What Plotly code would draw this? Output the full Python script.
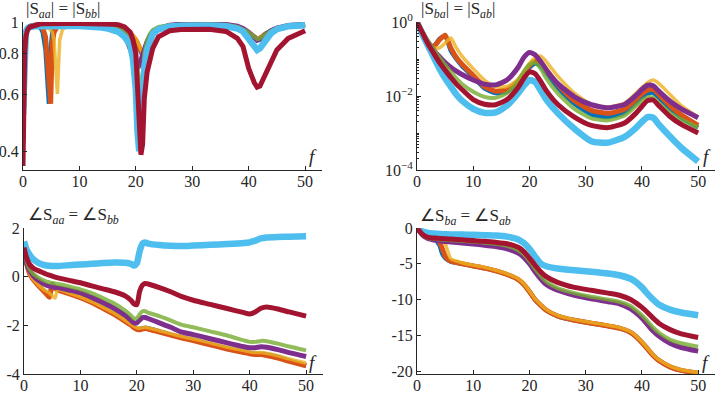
import math
import plotly.graph_objects as go

# frequency grids (one per panel)
f_mag_aa = [0, 0.15, 0.3, 0.5, 0.8, 1.2, 2, 3, 3.5, 4, 4.3, 4.6, 4.9, 5.2, 5.5, 5.8, 6.1, 6.5, 7, 8,
            10, 12, 14, 15, 16, 17, 18, 19, 19.5, 20, 20.3, 20.6, 20.9, 21.2, 21.5, 22, 22.5, 23, 24,
            26, 28, 30, 33, 36, 38, 39, 40, 41, 41.5, 42, 43, 44, 45, 47, 50]
f_mag_ba = [0, 1, 2, 3, 4, 5, 6, 7, 8, 10, 12, 14, 16, 18, 19, 20, 21, 22, 23, 25, 28, 31, 34, 37,
            39, 40, 41, 42, 43, 45, 47, 50]
f_ang_aa = [0, 0.5, 1, 1.5, 2, 3, 4, 4.5, 5, 5.5, 6, 8, 10, 12, 14, 16, 18, 19, 19.5, 20, 20.5, 21,
            21.5, 22, 24, 26, 28, 30, 33, 36, 39, 40, 41, 42, 43, 45, 47, 50]
f_ang_ba = [0, 1, 2, 3, 4, 4.5, 5, 5.5, 6, 8, 10, 12, 14, 16, 18, 19, 20, 21, 22, 23, 25, 28, 31, 34,
            36, 38, 39, 40, 41, 42, 43, 45, 47, 50]

# |S_aa| = |S_bb|
mag_aa_1 = [0.44, 0.7, 0.85, 0.93, 0.96, 0.97, 0.975, 0.97, 0.93, 0.82, 0.7, 0.56, 0.82, 0.93, 0.96, 0.97,
            0.975, 0.978, 0.98, 0.982, 0.985, 0.985, 0.982, 0.978, 0.97, 0.96, 0.945, 0.92, 0.9, 0.87,
            0.85, 0.82, 0.8, 0.79, 0.82, 0.87, 0.91, 0.935, 0.955, 0.97, 0.978, 0.98, 0.98, 0.975, 0.96,
            0.945, 0.92, 0.895, 0.885, 0.89, 0.92, 0.94, 0.955, 0.97, 0.98]
mag_aa_2 = [0.45, 0.68, 0.84, 0.92, 0.95, 0.965, 0.975, 0.975, 0.96, 0.9, 0.8, 0.66, 0.56, 0.86, 0.93, 0.96,
            0.97, 0.975, 0.98, 0.982, 0.985, 0.985, 0.982, 0.978, 0.972, 0.962, 0.948, 0.925, 0.905, 0.88,
            0.86, 0.835, 0.81, 0.795, 0.8, 0.85, 0.9, 0.93, 0.955, 0.97, 0.978, 0.98, 0.98, 0.975, 0.962,
            0.948, 0.925, 0.9, 0.888, 0.892, 0.92, 0.94, 0.955, 0.97, 0.98]
mag_aa_3 = [0.44, 0.68, 0.84, 0.92, 0.95, 0.965, 0.975, 0.975, 0.97, 0.965, 0.96, 0.955, 0.945, 0.93, 0.88,
            0.75, 0.6, 0.88, 0.95, 0.975, 0.985, 0.985, 0.982, 0.978, 0.972, 0.963, 0.95, 0.93, 0.91,
            0.89, 0.87, 0.845, 0.82, 0.8, 0.795, 0.83, 0.88, 0.92, 0.95, 0.97, 0.978, 0.98, 0.98, 0.976,
            0.964, 0.95, 0.93, 0.905, 0.892, 0.895, 0.92, 0.94, 0.955, 0.97, 0.98]
mag_aa_4 = [0.43, 0.66, 0.83, 0.92, 0.955, 0.97, 0.98, 0.985, 0.986, 0.987, 0.987, 0.987, 0.987, 0.987,
            0.987, 0.988, 0.988, 0.988, 0.988, 0.989, 0.99, 0.99, 0.988, 0.985, 0.975, 0.96, 0.92, 0.82,
            0.77, 0.735, 0.72, 0.735, 0.765, 0.8, 0.83, 0.87, 0.9, 0.925, 0.955, 0.978, 0.985, 0.988,
            0.987, 0.982, 0.97, 0.955, 0.93, 0.895, 0.878, 0.885, 0.915, 0.94, 0.958, 0.975, 0.985]
mag_aa_5 = [0.41, 0.64, 0.82, 0.91, 0.95, 0.97, 0.98, 0.983, 0.984, 0.985, 0.985, 0.985, 0.985, 0.985,
            0.985, 0.986, 0.986, 0.987, 0.987, 0.988, 0.988, 0.988, 0.985, 0.98, 0.972, 0.96, 0.94, 0.9,
            0.86, 0.8, 0.72, 0.64, 0.6, 0.68, 0.8, 0.88, 0.92, 0.945, 0.965, 0.978, 0.984, 0.985, 0.985,
            0.98, 0.968, 0.952, 0.93, 0.9, 0.885, 0.89, 0.918, 0.94, 0.956, 0.972, 0.982]
mag_aa_6 = [0.52, 0.77, 0.88, 0.93, 0.955, 0.965, 0.97, 0.972, 0.972, 0.972, 0.972, 0.972, 0.972, 0.972,
            0.972, 0.972, 0.972, 0.972, 0.972, 0.972, 0.972, 0.97, 0.962, 0.955, 0.945, 0.93, 0.9, 0.85,
            0.77, 0.62, 0.46, 0.4, 0.44, 0.55, 0.72, 0.82, 0.88, 0.92, 0.95, 0.968, 0.974, 0.976, 0.975,
            0.97, 0.955, 0.935, 0.89, 0.84, 0.82, 0.83, 0.88, 0.925, 0.95, 0.97, 0.978]
mag_aa_7 = [0.36, 0.6, 0.8, 0.9, 0.945, 0.965, 0.978, 0.985, 0.987, 0.988, 0.988, 0.988, 0.989, 0.989,
            0.989, 0.99, 0.99, 0.99, 0.99, 0.99, 0.99, 0.99, 0.99, 0.988, 0.985, 0.98, 0.965, 0.93, 0.88,
            0.8, 0.62, 0.47, 0.39, 0.42, 0.58, 0.7, 0.77, 0.83, 0.9, 0.94, 0.948, 0.95, 0.95, 0.935,
            0.89, 0.84, 0.72, 0.65, 0.63, 0.635, 0.69, 0.76, 0.82, 0.89, 0.94]

# |S_ba| = |S_ab|
mag_ba_1 = [1, 0.45, 0.25, 0.22, 0.35, 0.42, 0.17, 0.1, 0.065, 0.033, 0.016, 0.012, 0.013, 0.023, 0.037,
            0.058, 0.075, 0.065, 0.042, 0.017, 0.0062, 0.0032, 0.0027, 0.0036, 0.0066, 0.0092, 0.0118,
            0.0122, 0.0092, 0.0045, 0.0026, 0.0014]
mag_ba_2 = [1, 0.45, 0.25, 0.22, 0.33, 0.44, 0.2, 0.11, 0.072, 0.036, 0.018, 0.0135, 0.015, 0.026, 0.042,
            0.067, 0.09, 0.08, 0.052, 0.021, 0.0075, 0.0041, 0.0034, 0.0045, 0.0083, 0.0115, 0.0145,
            0.015, 0.011, 0.0055, 0.0031, 0.0016]
mag_ba_3 = [1, 0.45, 0.25, 0.2, 0.2, 0.27, 0.37, 0.2, 0.12, 0.055, 0.027, 0.018, 0.018, 0.028, 0.045,
            0.075, 0.11, 0.12, 0.085, 0.035, 0.012, 0.006, 0.005, 0.0065, 0.012, 0.017, 0.023, 0.027,
            0.022, 0.011, 0.0055, 0.0027]
mag_ba_4 = [1, 0.5, 0.28, 0.17, 0.115, 0.08, 0.06, 0.047, 0.038, 0.027, 0.021, 0.02, 0.027, 0.06, 0.11,
            0.15, 0.13, 0.085, 0.05, 0.022, 0.0095, 0.0058, 0.0048, 0.006, 0.0105, 0.015, 0.0195, 0.019,
            0.0135, 0.0072, 0.0045, 0.0026]
mag_ba_5 = [1, 0.55, 0.3, 0.18, 0.11, 0.07, 0.045, 0.03, 0.021, 0.013, 0.0095, 0.009, 0.012, 0.025, 0.045,
            0.07, 0.08, 0.055, 0.03, 0.012, 0.0045, 0.0025, 0.0022, 0.003, 0.0055, 0.0075, 0.0093, 0.009,
            0.0065, 0.0035, 0.0023, 0.0014]
mag_ba_6 = [1, 0.45, 0.22, 0.11, 0.055, 0.03, 0.018, 0.011, 0.0075, 0.0045, 0.0035, 0.0036, 0.0055, 0.012,
            0.019, 0.027, 0.024, 0.014, 0.008, 0.0035, 0.0013, 0.0006, 0.00055, 0.0008, 0.0014, 0.002,
            0.0027, 0.0026, 0.0017, 0.0008, 0.0004, 0.00017]
mag_ba_7 = [1, 0.5, 0.25, 0.14, 0.08, 0.05, 0.032, 0.021, 0.015, 0.008, 0.006, 0.0058, 0.008, 0.017, 0.03,
            0.045, 0.04, 0.025, 0.014, 0.006, 0.0027, 0.0016, 0.0014, 0.0019, 0.0035, 0.0052, 0.0075,
            0.0078, 0.0055, 0.0028, 0.0017, 0.001]

# angle S_aa = angle S_bb
ang_aa_1 = [1.3, 0.5, 0.15, -0.05, -0.2, -0.45, -0.7, -0.8, -0.3, -0.45, -0.52, -0.68, -0.85, -1.05, -1.28,
            -1.52, -1.82, -1.98, -2.07, -2.14, -2.15, -2.12, -2.1, -2.12, -2.25, -2.38, -2.5, -2.6, -2.78,
            -2.95, -3.1, -3.15, -3.17, -3.17, -3.2, -3.3, -3.45, -3.65]
ang_aa_2 = [1.3, 0.5, 0.12, -0.08, -0.22, -0.48, -0.72, -0.85, -0.35, -0.48, -0.55, -0.7, -0.86, -1.06,
            -1.3, -1.55, -1.85, -2.0, -2.1, -2.17, -2.18, -2.15, -2.13, -2.15, -2.28, -2.4, -2.52, -2.63,
            -2.8, -2.97, -3.12, -3.17, -3.2, -3.2, -3.24, -3.35, -3.48, -3.66]
ang_aa_3 = [1.3, 0.5, 0.14, -0.06, -0.2, -0.44, -0.6, -0.68, -0.78, -0.88, -0.52, -0.68, -0.84, -1.03,
            -1.26, -1.5, -1.8, -1.96, -2.04, -2.1, -2.12, -2.1, -2.08, -2.1, -2.22, -2.34, -2.46, -2.56,
            -2.72, -2.9, -3.04, -3.09, -3.12, -3.12, -3.15, -3.25, -3.38, -3.55]
ang_aa_4 = [1.2, 0.55, 0.25, 0.08, -0.05, -0.22, -0.35, -0.39, -0.42, -0.44, -0.45, -0.55, -0.66, -0.85,
            -1.06, -1.3, -1.6, -1.8, -1.9, -1.9, -1.78, -1.68, -1.68, -1.72, -1.9, -2.08, -2.28, -2.38,
            -2.55, -2.72, -2.88, -2.92, -2.92, -2.88, -2.9, -3.0, -3.12, -3.28]
ang_aa_5 = [1.2, 0.6, 0.3, 0.15, 0.05, -0.1, -0.2, -0.23, -0.26, -0.28, -0.3, -0.4, -0.52, -0.68, -0.88,
            -1.1, -1.4, -1.6, -1.72, -1.7, -1.55, -1.42, -1.42, -1.48, -1.62, -1.8, -1.98, -2.08, -2.25,
            -2.42, -2.62, -2.68, -2.68, -2.64, -2.65, -2.75, -2.87, -3.03]
ang_aa_6 = [1.45, 1.1, 0.9, 0.75, 0.65, 0.52, 0.46, 0.45, 0.44, 0.44, 0.44, 0.47, 0.5, 0.53, 0.56, 0.58,
            0.57, 0.52, 0.46, 0.55, 1.05, 1.35, 1.4, 1.36, 1.3, 1.27, 1.26, 1.28, 1.31, 1.34, 1.38, 1.41,
            1.48, 1.57, 1.61, 1.63, 1.64, 1.66]
ang_aa_7 = [1.2, 0.75, 0.5, 0.38, 0.3, 0.2, 0.1, 0.06, 0.02, -0.02, -0.05, -0.15, -0.25, -0.38, -0.5,
            -0.62, -0.8, -0.98, -1.12, -1.15, -0.6, -0.35, -0.28, -0.3, -0.45, -0.62, -0.82, -0.97, -1.14,
            -1.31, -1.48, -1.53, -1.45, -1.3, -1.25, -1.33, -1.45, -1.62]

# angle S_ba = angle S_ab
ang_ba_1 = [0, -0.8, -1.1, -1.45, -2.4, -3.6, -4.2, -4.5, -4.7, -5.0, -5.3, -5.6, -6.0, -6.5, -7.2, -7.9,
            -8.9, -10.0, -10.8, -11.5, -12.3, -12.9, -13.3, -13.7, -14.0, -14.6, -15.2, -16.0, -16.9,
            -17.8, -18.5, -19.4, -19.9, -20.3]
ang_ba_2 = [0, -0.8, -1.1, -1.4, -2.0, -2.9, -3.9, -4.4, -4.65, -5.0, -5.3, -5.6, -6.0, -6.5, -7.2, -7.9,
            -8.9, -10.0, -10.8, -11.5, -12.3, -12.9, -13.3, -13.7, -14.0, -14.6, -15.2, -16.0, -16.9,
            -17.8, -18.5, -19.4, -19.9, -20.3]
ang_ba_3 = [0, -0.8, -1.1, -1.35, -1.6, -1.8, -2.2, -3.3, -4.3, -4.85, -5.2, -5.5, -5.9, -6.4, -7.1, -7.8,
            -8.8, -9.9, -10.7, -11.4, -12.2, -12.8, -13.2, -13.6, -13.9, -14.5, -15.1, -15.9, -16.8,
            -17.7, -18.4, -19.3, -19.8, -20.2]
ang_ba_4 = [0, -1.0, -1.5, -1.68, -1.8, -1.85, -1.9, -1.93, -1.95, -2.1, -2.25, -2.4, -2.6, -2.9, -3.5,
            -4.1, -5.0, -6.1, -7.1, -7.9, -8.7, -9.4, -9.9, -10.3, -10.6, -11.3, -11.9, -12.6, -13.5,
            -14.4, -15.1, -16.1, -16.7, -17.2]
ang_ba_5 = [0, -1.0, -1.4, -1.52, -1.6, -1.63, -1.66, -1.68, -1.7, -1.8, -1.9, -2.05, -2.2, -2.5, -3.1,
            -3.7, -4.6, -5.7, -6.7, -7.5, -8.4, -9.1, -9.6, -10.0, -10.3, -10.9, -11.5, -12.2, -13.0,
            -13.9, -14.6, -15.6, -16.1, -16.6]
ang_ba_6 = [0, -0.5, -0.7, -0.78, -0.85, -0.87, -0.88, -0.89, -0.9, -0.92, -0.95, -1.0, -1.05, -1.2, -1.6,
            -2.1, -2.9, -4.0, -4.95, -5.35, -5.65, -5.9, -6.1, -6.35, -6.6, -7.1, -7.6, -8.3, -9.2, -10.0,
            -10.7, -11.4, -11.8, -12.2]
ang_ba_7 = [0, -0.9, -1.3, -1.4, -1.45, -1.48, -1.5, -1.53, -1.55, -1.65, -1.75, -1.85, -2.0, -2.2, -2.7,
            -3.3, -4.2, -5.2, -6.1, -6.8, -7.6, -8.3, -8.7, -9.1, -9.4, -10.0, -10.5, -11.1, -11.8, -12.6,
            -13.3, -14.2, -14.8, -15.3]

colors = ['#0072BD', '#D95319', '#EDB120', '#7E2F8E', '#77AC30', '#4DBEEE', '#A2142F']
widths = [4.5, 5, 3.5, 5, 4, 6.5, 5]
opac = [1, 1, 0.8, 1, 0.8, 1, 1]

panels = [
    (f_mag_aa, [mag_aa_1, mag_aa_2, mag_aa_3, mag_aa_4, mag_aa_5, mag_aa_6, mag_aa_7], 'x', 'y', 'linear'),
    (f_mag_ba, [mag_ba_1, mag_ba_2, mag_ba_3, mag_ba_4, mag_ba_5, mag_ba_6, mag_ba_7], 'x2', 'y2', 'spline'),
    (f_ang_aa, [ang_aa_1, ang_aa_2, ang_aa_3, ang_aa_4, ang_aa_5, ang_aa_6, ang_aa_7], 'x3', 'y3', 'spline'),
    (f_ang_ba, [ang_ba_1, ang_ba_2, ang_ba_3, ang_ba_4, ang_ba_5, ang_ba_6, ang_ba_7], 'x4', 'y4', 'spline'),
]

fig = go.Figure()
for f, series, xa, ya, shape in panels:
    for i, vals in enumerate(series):
        fig.add_trace(go.Scatter(
            x=f, y=vals, xaxis=xa, yaxis=ya, mode='lines',
            line=dict(color=colors[i], width=widths[i], shape=shape, smoothing=0.6),
            opacity=opac[i], showlegend=False, hoverinfo='skip'))

W, H = 716, 393
ink = '#262626'
serif = 'Liberation Serif'
tfont = dict(family=serif, size=16, color=ink)


def ax(**kw):
    d = dict(showline=True, linecolor=ink, linewidth=1, ticks='inside', ticklen=4, tickcolor=ink,
             showgrid=False, zeroline=False, tickfont=tfont, automargin=False, fixedrange=True)
    d.update(kw)
    return d


xt = dict(range=[0, 53], tickvals=[0, 10, 20, 30, 40, 50], ticktext=['0', '10', '20', '30', '40', '50'],
          ticklabelstandoff=-3)
top = [1 - 170 / H, 1 - 22 / H]
bot = [1 - 374 / H, 1 - 228 / H]

fig.update_layout(
    width=W, height=H, margin=dict(l=0, r=0, t=0, b=0),
    paper_bgcolor='white', plot_bgcolor='white', template='none',
    font=dict(family=serif, color=ink),
    xaxis=ax(domain=[23 / W, 322 / W], anchor='y', **xt),
    xaxis2=ax(domain=[417 / W, 715 / W], anchor='y2', **xt),
    xaxis3=ax(domain=[24 / W, 323 / W], anchor='y3', **xt),
    xaxis4=ax(domain=[417 / W, 715 / W], anchor='y4', **xt),
    yaxis=ax(domain=top, anchor='x', type='log', range=[math.log10(0.35), 0],
             tickvals=[0.4, 0.6, 0.8, 1], ticktext=['0.4', '0.6', '0.8', '1']),
    yaxis2=ax(domain=top, anchor='x2', type='log', range=[-4, 0],
              tickvals=[1e-4, 1e-2, 1], ticktext=['10<sup>−4</sup>', '10<sup>−2</sup>', '10<sup>0</sup>'],
              minor=dict(ticks='inside', ticklen=2, tickcolor=ink, dtick='D1', showgrid=False)),
    yaxis3=ax(domain=bot, anchor='x3', range=[-4, 2],
              tickvals=[-4, -2, 0, 2], ticktext=['-4', '-2', '0', '2']),
    yaxis4=ax(domain=bot, anchor='x4', range=[-20.4, 0],
              tickvals=[-20, -15, -10, -5, 0], ticktext=['-20', '-15', '-10', '-5', '0']),
)

titles = [
    ('|S<sub><i>aa</i></sub>| = |S<sub><i>bb</i></sub>|', 24, 10),
    ('|S<sub><i>ba</i></sub>| = |S<sub><i>ab</i></sub>|', 419, 10),
    ('∠S<sub><i>aa</i></sub> = ∠S<sub><i>bb</i></sub>', 26, 216),
    ('∠S<sub><i>ba</i></sub> = ∠S<sub><i>ab</i></sub>', 418, 217),
]
for txt, px, py in titles:
    fig.add_annotation(text=txt, x=px / W, y=1 - py / H, xref='paper', yref='paper',
                       xanchor='left', yanchor='middle', showarrow=False,
                       font=dict(family=serif, size=17, color=ink))

for px, py in [(313, 157), (707, 157), (313, 362), (706, 362)]:
    fig.add_annotation(text='<i>f</i>', x=px / W, y=1 - py / H, xref='paper', yref='paper',
                       xanchor='center', yanchor='middle', showarrow=False,
                       font=dict(family=serif, size=19, color=ink))

# drop the browser's default 8px body margin so the figure fills the window
fig.write_html("out.html", config={'displayModeBar': False},
               post_script="document.body.style.margin='0';")
